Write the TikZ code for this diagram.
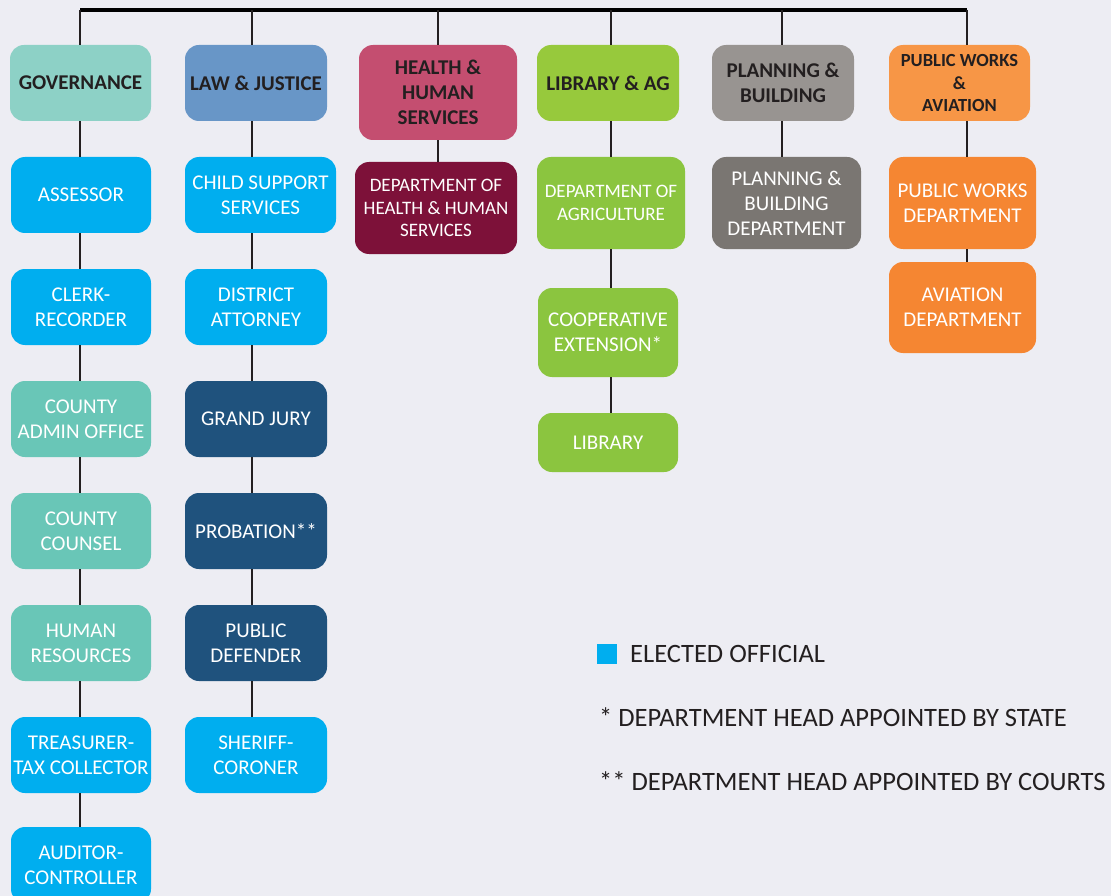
\documentclass[tikz,border=0pt]{standalone}
\usepackage{fontspec}
\setmainfont{Carlito}

\definecolor{bg}{HTML}{EDEDF3}
\definecolor{ink}{HTML}{231F20}
\definecolor{govhead}{HTML}{8DD1C6}
\definecolor{lawhead}{HTML}{6896C7}
\definecolor{hhshead}{HTML}{C44E70}
\definecolor{libhead}{HTML}{97C93C}
\definecolor{pbhead}{HTML}{989491}
\definecolor{pwhead}{HTML}{F79646}
\definecolor{elected}{HTML}{00AEEF}
\definecolor{teal}{HTML}{69C6B7}
\definecolor{navy}{HTML}{1F527D}
\definecolor{maroon}{HTML}{7D1139}
\definecolor{green}{HTML}{8BC53F}
\definecolor{grey}{HTML}{7A7672}
\definecolor{orange}{HTML}{F58632}

\begin{document}
\begin{tikzpicture}[x=1pt,y=-1pt,
  box/.style={rounded corners=14pt,inner sep=2pt,align=center,text=white,
    font=\fontsize{21}{25}\selectfont,minimum height=76pt},
  head/.style={box,text=ink,font=\bfseries\fontsize{21}{25}\selectfont},
  smallbox/.style={font=\fontsize{19}{22.5}\selectfont},
  link/.style={ink,line width=1.6pt},
  bar/.style={black,line width=3.5pt},
  legend/.style={anchor=base west,inner sep=0pt,text=ink,
    font=\fontsize{26.5}{30}\selectfont}]
\useasboundingbox (0,0) rectangle (1111,896);
\clip (0,0) rectangle (1111,896);
\fill[bg] (0,0) rectangle (1111,896);

% columns
\coordinate (cGov) at (80,10);
\coordinate (cLaw) at (252,10);
\coordinate (cHhs) at (438,10);
\coordinate (cLib) at (611,10);
\coordinate (cPb) at (782,10);
\coordinate (cPw) at (967,10);

% headers
\node[head,fill=govhead,minimum width=141pt] (gov) at (80.5,83) {GOVERNANCE};
\node[head,fill=lawhead,minimum width=142pt] (law) at (256,83) {LAW \& JUSTICE};
\node[head,fill=hhshead,minimum width=158pt,minimum height=95pt] (hhs) at (438,92.5) {HEALTH \&\\HUMAN\\SERVICES};
\node[head,fill=libhead,minimum width=142pt] (lib) at (608,83) {LIBRARY \& AG};
\node[head,fill=pbhead,minimum width=142pt] (pb) at (783,83) {PLANNING \&\\BUILDING};
\node[head,fill=pwhead,minimum width=141pt,font=\bfseries\fontsize{18.5}{22.5}\selectfont] (pw) at (959.5,83) {PUBLIC WORKS\\\&\\AVIATION};

% governance
\node[box,fill=elected,minimum width=140pt] (assessor) at (81,195) {ASSESSOR};
\node[box,fill=elected,minimum width=140pt] (clerk) at (81,307) {CLERK-\\RECORDER};
\node[box,fill=teal,minimum width=140pt] (cao) at (81,419) {COUNTY\\ADMIN OFFICE};
\node[box,fill=teal,minimum width=140pt] (counsel) at (81,531) {COUNTY\\COUNSEL};
\node[box,fill=teal,minimum width=140pt] (hr) at (81,643) {HUMAN\\RESOURCES};
\node[box,fill=elected,minimum width=140pt] (treasurer) at (81,755) {TREASURER-\\TAX COLLECTOR};
\node[box,fill=elected,minimum width=140pt] (auditor) at (81,865) {AUDITOR-\\CONTROLLER};

% law & justice
\node[box,fill=elected,minimum width=151pt] (csup) at (260.5,195) {CHILD SUPPORT\\SERVICES};
\node[box,fill=elected,minimum width=142pt] (da) at (256,307) {DISTRICT\\ATTORNEY};
\node[box,fill=navy,minimum width=142pt] (jury) at (256,419) {GRAND JURY};
\node[box,fill=navy,minimum width=142pt] (probation) at (256,531) {PROBATION**};
\node[box,fill=navy,minimum width=142pt] (defender) at (256,643) {PUBLIC\\DEFENDER};
\node[box,fill=elected,minimum width=142pt] (sheriff) at (256,755) {SHERIFF-\\CORONER};

% health, library, planning, public works
\node[box,smallbox,fill=maroon,minimum width=162pt,minimum height=92pt] (dhhs) at (436,208) {DEPARTMENT OF\\HEALTH \& HUMAN\\SERVICES};
\node[box,smallbox,fill=green,minimum width=148pt,minimum height=92pt] (dag) at (611,203) {DEPARTMENT OF\\AGRICULTURE};
\node[box,fill=green,minimum width=140pt,minimum height=89pt] (coop) at (608,332.5) {COOPERATIVE\\EXTENSION*};
\node[box,fill=green,minimum width=140pt,minimum height=59pt] (library) at (608,442.5) {LIBRARY};
\node[box,fill=grey,minimum width=149pt,minimum height=92pt] (pbd) at (786.5,203) {PLANNING \&\\BUILDING\\DEPARTMENT};
\node[box,fill=orange,minimum width=147pt,minimum height=92pt] (pwd) at (962.5,203) {PUBLIC WORKS\\DEPARTMENT};
\node[box,fill=orange,minimum width=147pt,minimum height=91pt] (avd) at (962.5,307.5) {AVIATION\\DEPARTMENT};

% connectors
\draw[bar] (cGov) -- (cPw);
\foreach \a/\c in {gov/cGov,law/cLaw,hhs/cHhs,lib/cLib,pb/cPb,pw/cPw}
  \draw[link] (\c) -- (\a.north -| \c);
\foreach \a/\b/\c in {gov/assessor/cGov,assessor/clerk/cGov,clerk/cao/cGov,
    cao/counsel/cGov,counsel/hr/cGov,hr/treasurer/cGov,treasurer/auditor/cGov,
    law/csup/cLaw,csup/da/cLaw,da/jury/cLaw,jury/probation/cLaw,
    probation/defender/cLaw,defender/sheriff/cLaw,
    hhs/dhhs/cHhs,lib/dag/cLib,dag/coop/cLib,coop/library/cLib,
    pb/pbd/cPb,pw/pwd/cPw,pwd/avd/cPw}
  \draw[link] (\a.south -| \c) -- (\b.north -| \c);

% legend
\node[fill=elected,minimum size=20pt,inner sep=0pt] (keysq) at (607,654) {};
\node[legend] (keyelected) at (630,662) {ELECTED OFFICIAL};
\node[legend] (keystate) at (599,726) {* DEPARTMENT HEAD APPOINTED BY STATE};
\node[legend] (keycourts) at (599,790) {** DEPARTMENT HEAD APPOINTED BY COURTS};
\end{tikzpicture}
\end{document}
